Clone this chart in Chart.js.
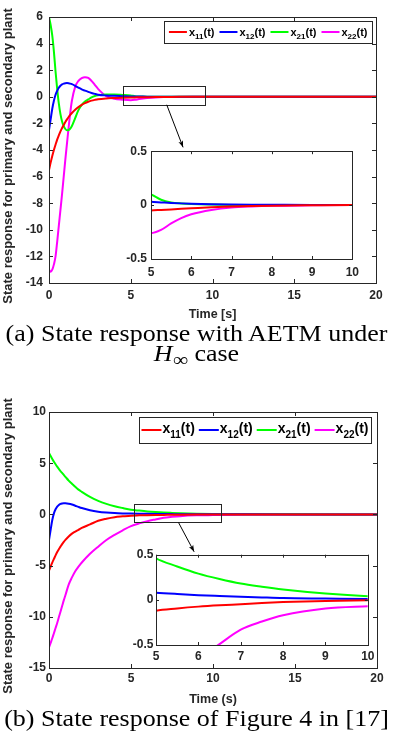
<!DOCTYPE html>
<html>
<head>
<meta charset="utf-8">
<script src="https://cdn.jsdelivr.net/npm/chart.js@4.4.1/dist/chart.umd.min.js"></script>
<style>
html, body { margin: 0; padding: 0; background: #fff; }
#page { position: relative; width: 393px; height: 745px; overflow: hidden; background: #fff; }
canvas { position: absolute; }
.cap {
    position: absolute; left: 0; width: 393px; text-align: center;
    font-family: "Liberation Serif", "Times New Roman", serif; font-size: 23px;
    line-height: 20px; color: #000; white-space: nowrap;
    transform: scaleX(1.13); transform-origin: center;
}
.inf { position: relative; top: 5px; font-size: 19px; }
</style>
</head>
<body>
<div id="page">
    <canvas id="mainA" width="393" height="322" style="left:0;top:0"></canvas>
    <canvas id="insetA" width="255" height="145" style="left:110px;top:140px"></canvas>
    <div class="cap" style="top:324px">(a) State response with AETM under</div>
    <div class="cap" style="top:344px"><i>H</i><span class="inf">∞</span> case</div>
    <canvas id="mainB" width="393" height="312" style="left:0;top:395px"></canvas>
    <canvas id="insetB" width="264" height="122" style="left:115px;top:545px"></canvas>
    <div class="cap" style="top:709px">(b) State response of Figure 4 in [17]</div>
</div>
<script>
// values
const timeA = [0, 0.1, 0.2, 0.3, 0.4, 0.5, 0.6, 0.7, 0.8, 0.9, 1.0, 1.1, 1.2, 1.3, 1.4,
    1.6, 1.8, 2.0, 2.2, 2.4, 2.6, 2.8, 3.0, 3.5, 4, 4.5, 5,
    5.25, 5.5, 5.75, 6, 6.5, 7, 7.5, 8, 9, 10, 15, 20];
const x11A = [-5.5, -4.95, -4.45, -4.0, -3.6, -3.22, -2.9, -2.6, -2.35, -2.12, -1.9, -1.7, -1.52, -1.36, -1.22,
    -0.97, -0.77, -0.6, -0.47, -0.37, -0.29, -0.23, -0.18, -0.12, -0.09, -0.065, -0.05,
    -0.045, -0.04, -0.035, -0.03, -0.02, -0.013, -0.008, -0.005, -0.002, 0, 0, 0];
const x12A = [-2.5, -1.7, -0.9, -0.3, 0.15, 0.45, 0.68, 0.83, 0.93, 0.99, 1.02, 1.03, 1.02, 0.99, 0.95,
    0.83, 0.69, 0.56, 0.46, 0.37, 0.29, 0.22, 0.16, 0.1, 0.07, 0.05, 0.03,
    0.025, 0.02, 0.016, 0.013, 0.009, 0.006, 0.004, 0.003, 0.001, 0, 0, 0];
const x21A = [6, 5.4, 4.6, 3.4, 1.9, 0.6, -0.5, -1.3, -1.85, -2.2, -2.42, -2.52, -2.5, -2.4, -2.2,
    -1.6, -1.0, -0.6, -0.35, -0.2, -0.05, 0.06, 0.12, 0.17, 0.17, 0.14, 0.1,
    0.05, 0.025, 0.015, 0.01, 0.005, 0.002, 0.001, 0, 0, 0, 0, 0];
const x22A = [-13.0, -13.15, -13.0, -12.6, -12.0, -10.9, -9.7, -8.5, -7.3, -6.0, -4.7, -3.5, -2.3, -1.2, -0.3,
    0.75, 1.2, 1.4, 1.47, 1.42, 1.2, 0.9, 0.6, 0.05, -0.15, -0.22, -0.26,
    -0.23, -0.17, -0.12, -0.085, -0.045, -0.022, -0.012, -0.006, -0.002, 0, 0, 0];

const timeB = [0, 0.1, 0.2, 0.3, 0.4, 0.5, 0.6, 0.7, 0.8, 0.9, 1.0,
    1.2, 1.4, 1.6, 1.8, 2.0, 2.5, 3, 3.5, 4, 4.5, 5,
    5.5, 6, 6.5, 7, 7.5, 8, 9, 10, 12, 15, 20];
const x11B = [-5.5, -5.1, -4.7, -4.35, -4.0, -3.68, -3.4, -3.15, -2.9, -2.68, -2.48,
    -2.15, -1.88, -1.68, -1.5, -1.32, -0.98, -0.62, -0.42, -0.27, -0.19, -0.12,
    -0.095, -0.075, -0.06, -0.048, -0.035, -0.025, -0.012, -0.005, -0.001, 0, 0];
const x12B = [-2.5, -1.5, -0.55, 0.1, 0.5, 0.76, 0.92, 1.02, 1.07, 1.09, 1.09,
    1.05, 0.97, 0.85, 0.73, 0.62, 0.4, 0.26, 0.18, 0.13, 0.1, 0.08,
    0.065, 0.052, 0.043, 0.035, 0.027, 0.02, 0.015, 0.01, 0.004, 0.001, 0];
const x21B = [6.0, 5.7, 5.42, 5.15, 4.9, 4.66, 4.44, 4.23, 4.05, 3.85, 3.67,
    3.3, 3.0, 2.7, 2.42, 2.2, 1.7, 1.32, 1.03, 0.8, 0.62, 0.46,
    0.37, 0.29, 0.23, 0.18, 0.145, 0.115, 0.07, 0.04, 0.015, 0.004, 0];
const x22B = [-13.0, -12.55, -12.1, -11.6, -11.1, -10.6, -10.05, -9.5, -8.95, -8.4, -7.9,
    -6.85, -6.15, -5.55, -5.1, -4.7, -3.85, -3.15, -2.5, -2.0, -1.55, -1.15,
    -0.88, -0.66, -0.49, -0.33, -0.24, -0.17, -0.095, -0.07, -0.03, -0.01, 0];

const seriesLabels = ['x11(t)', 'x12(t)', 'x21(t)', 'x22(t)'];
const seriesColors = ['#ff0000', '#0000ff', '#00ff00', '#ff00ff'];

const yLabel = 'State response for primary and secondary plant';
const xLabelA = 'Time [s]';
const xLabelB = 'Time (s)';

const FONT = '"Liberation Sans", Arial, sans-serif';
const INK = '#262626';
Chart.defaults.font.family = FONT;

function makeSets(time, arrays) {
    return arrays.map((arr, i) => ({
        label: seriesLabels[i],
        data: time.map((t, j) => ({ x: t, y: arr[j] })),
        borderColor: seriesColors[i],
        borderWidth: 2,
        pointRadius: 0,
        fill: false,
        cubicInterpolationMode: 'monotone'
    }));
}

// white axes background (for the insets)
const whiteArea = {
    id: 'whiteArea',
    beforeDraw(chart) {
        const a = chart.chartArea;
        chart.ctx.save();
        chart.ctx.fillStyle = '#fff';
        chart.ctx.fillRect(a.left, a.top, a.width, a.height);
        chart.ctx.restore();
    }
};

// matlab style box with inward ticks on all four sides
const frameTicks = {
    id: 'frameTicks',
    afterDatasetsDraw(chart, args, opts) {
        const { ctx, chartArea: a, scales } = chart;
        const len = opts.len || 4;
        ctx.save();
        ctx.strokeStyle = INK;
        ctx.lineWidth = 1;
        ctx.beginPath();
        scales.x.ticks.forEach(t => {
            const px = Math.round(scales.x.getPixelForValue(t.value)) + 0.5;
            ctx.moveTo(px, a.bottom); ctx.lineTo(px, a.bottom - len);
            ctx.moveTo(px, a.top); ctx.lineTo(px, a.top + len);
        });
        scales.y.ticks.forEach(t => {
            const py = Math.round(scales.y.getPixelForValue(t.value)) + 0.5;
            ctx.moveTo(a.left, py); ctx.lineTo(a.left + len, py);
            ctx.moveTo(a.right, py); ctx.lineTo(a.right - len, py);
        });
        ctx.stroke();
        ctx.strokeRect(Math.round(a.left) + 0.5, Math.round(a.top) + 0.5, Math.round(a.width), Math.round(a.height));
        ctx.restore();
    }
};

// rotated y title, centred a little below the middle of the axis like the original
const sideTitle = {
    id: 'sideTitle',
    afterDraw(chart, args, o) {
        if (!o.text) return;
        const { ctx, chartArea: a } = chart;
        ctx.save();
        ctx.translate(o.x, (a.top + a.bottom) / 2 + o.shift);
        ctx.rotate(-Math.PI / 2);
        ctx.font = `bold ${o.size}px ${FONT}`;
        ctx.fillStyle = INK;
        ctx.textAlign = 'center';
        ctx.textBaseline = 'middle';
        ctx.fillText(o.text, 0, 0);
        ctx.restore();
    }
};

// zoom window rectangle and arrow, given in data coordinates
const zoomMark = {
    id: 'zoomMark',
    afterDatasetsDraw(chart, args, o) {
        if (!o.box) return;
        const { ctx, scales: { x, y } } = chart;
        const x0 = x.getPixelForValue(o.box[0]), x1 = x.getPixelForValue(o.box[1]);
        const y0 = y.getPixelForValue(o.box[3]), y1 = y.getPixelForValue(o.box[2]);
        ctx.save();
        ctx.strokeStyle = INK;
        ctx.lineWidth = 1;
        ctx.strokeRect(Math.round(x0) + 0.5, Math.round(y0) + 0.5, Math.round(x1 - x0), Math.round(y1 - y0));
        const ax = x.getPixelForValue(o.arrow[0]), ay = y.getPixelForValue(o.arrow[1]);
        const bx = x.getPixelForValue(o.arrow[2]), by = y.getPixelForValue(o.arrow[3]);
        const ang = Math.atan2(by - ay, bx - ax);
        ctx.strokeStyle = '#000';
        ctx.beginPath();
        ctx.moveTo(ax, ay); ctx.lineTo(bx, by);
        ctx.stroke();
        ctx.fillStyle = '#000';
        ctx.beginPath();
        ctx.moveTo(bx, by);
        ctx.lineTo(bx - 7 * Math.cos(ang - 0.35), by - 7 * Math.sin(ang - 0.35));
        ctx.lineTo(bx - 5 * Math.cos(ang), by - 5 * Math.sin(ang));
        ctx.lineTo(bx - 7 * Math.cos(ang + 0.35), by - 7 * Math.sin(ang + 0.35));
        ctx.closePath();
        ctx.fill();
        ctx.restore();
    }
};

// legend box inside the axes, labels like x11(t) with subscript
const boxLegend = {
    id: 'boxLegend',
    afterDraw(chart, args, o) {
        if (!o.size) return;
        const { ctx, chartArea: a } = chart;
        const main = `bold ${o.size}px ${FONT}`, sub = `bold ${o.subSize}px ${FONT}`;
        ctx.save();
        const items = chart.data.datasets.map(ds => {
            const m = ds.label.match(/^([a-z]+)(\d+)(.*)$/);
            ctx.font = main;
            const w1 = ctx.measureText(m[1]).width, w3 = ctx.measureText(m[3]).width;
            ctx.font = sub;
            const w2 = ctx.measureText(m[2]).width;
            return { ds, m, w1, w2, w3, w: o.lineLen + o.lineGap + w1 + w2 + w3 };
        });
        const total = items.reduce((s, it) => s + it.w, 0) + o.itemGap * (items.length - 1) + 2 * o.pad;
        const right = a.right - o.right;
        const left = right - total;
        const top = a.top + o.top;
        ctx.fillStyle = '#fff';
        ctx.fillRect(left, top, total, o.height);
        ctx.strokeStyle = INK;
        ctx.lineWidth = 1;
        ctx.strokeRect(Math.round(left) + 0.5, Math.round(top) + 0.5, Math.round(total), o.height);
        let x = left + o.pad;
        const cy = top + o.height / 2;
        items.forEach(it => {
            ctx.strokeStyle = it.ds.borderColor;
            ctx.lineWidth = 2;
            ctx.beginPath();
            ctx.moveTo(x, cy); ctx.lineTo(x + o.lineLen, cy);
            ctx.stroke();
            x += o.lineLen + o.lineGap;
            ctx.fillStyle = '#000';
            ctx.textAlign = 'left';
            ctx.textBaseline = 'alphabetic';
            const base = cy + o.baseOff;
            ctx.font = main; ctx.fillText(it.m[1], x, base); x += it.w1;
            ctx.font = sub; ctx.fillText(it.m[2], x, base + o.subDrop); x += it.w2;
            ctx.font = main; ctx.fillText(it.m[3], x, base); x += it.w3;
            x += o.itemGap;
        });
        ctx.restore();
    }
};

const noGrid = { display: false, drawTicks: false };

function mainChart(id, time, arrays, o) {
    return new Chart(document.getElementById(id), {
        type: 'line',
        data: { datasets: makeSets(time, arrays) },
        options: {
            animation: false,
            responsive: false,
            devicePixelRatio: 1,
            layout: { padding: { left: 0, top: o.padTop, right: o.padRight, bottom: 0 } },
            scales: {
                x: {
                    type: 'linear', min: 0, max: 20,
                    ticks: { stepSize: 5, color: INK, padding: o.xPad, font: { size: o.tick, weight: 'bold' } },
                    grid: noGrid, border: { display: false },
                    title: { display: true, text: o.xLabel, color: INK, padding: { top: 0, bottom: 0 },
                        font: { size: 12.5, weight: 'bold' } },
                    afterFit: s => { s.height = o.xh; }
                },
                y: {
                    min: o.yMin, max: o.yMax,
                    ticks: { stepSize: o.yStep, color: INK, padding: o.yPad, font: { size: o.tick, weight: 'bold' } },
                    grid: noGrid, border: { display: false },
                    afterFit: s => { s.width = 49; }
                }
            },
            plugins: {
                legend: { display: false },
                tooltip: { enabled: false },
                frameTicks: { len: 4 },
                sideTitle: { text: yLabel, x: 8.3, shift: o.titleShift, size: 13 },
                zoomMark: { box: o.box, arrow: o.arrow },
                boxLegend: o.legend
            }
        },
        plugins: [frameTicks, sideTitle, zoomMark, boxLegend]
    });
}

function insetChart(id, time, arrays, o) {
    return new Chart(document.getElementById(id), {
        type: 'line',
        data: { datasets: makeSets(time, arrays) },
        options: {
            animation: false,
            responsive: false,
            devicePixelRatio: 1,
            layout: { padding: { left: 0, top: o.padTop, right: o.padRight, bottom: 0 } },
            scales: {
                x: {
                    type: 'linear', min: 5, max: 10,
                    ticks: { stepSize: 1, color: INK, padding: o.xPad, font: { size: o.tick, weight: 'bold' } },
                    grid: noGrid, border: { display: false },
                    afterFit: s => { s.height = o.xh; }
                },
                y: {
                    min: -0.5, max: 0.5,
                    ticks: { stepSize: 0.5, color: INK, padding: o.yPad, font: { size: o.tick, weight: 'bold' } },
                    grid: noGrid, border: { display: false },
                    afterFit: s => { s.width = o.yw; }
                }
            },
            plugins: {
                legend: { display: false },
                tooltip: { enabled: false },
                frameTicks: { len: 3 }
            }
        },
        plugins: [whiteArea, frameTicks]
    });
}

mainChart('mainA', timeA, [x11A, x12A, x21A, x22A], {
    padTop: 17, padRight: 17, xh: 39, xPad: 5, yPad: 6, tick: 12, titleShift: 6,
    yMin: -14, yMax: 6, yStep: 2, xLabel: xLabelA,
    box: [4.5, 9.5, -0.6, 0.8], arrow: [7.2, -0.6, 8.2, -3.8],
    legend: { size: 11, subSize: 8, lineLen: 18, lineGap: 2, itemGap: 5, pad: 4.5,
        right: 4, top: 4, height: 22, baseOff: 3.5, subDrop: 3 }
});
insetChart('insetA', timeA, [x11A, x12A, x21A, x22A], {
    padTop: 11, padRight: 9, xh: 26, yw: 41, xPad: 6, yPad: 4, tick: 12
});

mainChart('mainB', timeB, [x11B, x12B, x21B, x22B], {
    padTop: 17, padRight: 16, xh: 39, xPad: 3.5, yPad: 3, tick: 12, titleShift: 6,
    yMin: -15, yMax: 10, yStep: 5, xLabel: xLabelB,
    box: [5.2, 10.5, -0.8, 1.0], arrow: [7.9, -0.8, 8.85, -3.65],
    legend: { size: 14, subSize: 10, lineLen: 20, lineGap: 1, itemGap: 4, pad: 2.5,
        right: 6, top: 5, height: 26, baseOff: 3, subDrop: 5 }
});
insetChart('insetB', timeB, [x11B, x12B, x21B, x22B], {
    padTop: 9, padRight: 8, xh: 22, yw: 41, xPad: 4.5, yPad: 2.5, tick: 12
});
</script>
</body>
</html>
